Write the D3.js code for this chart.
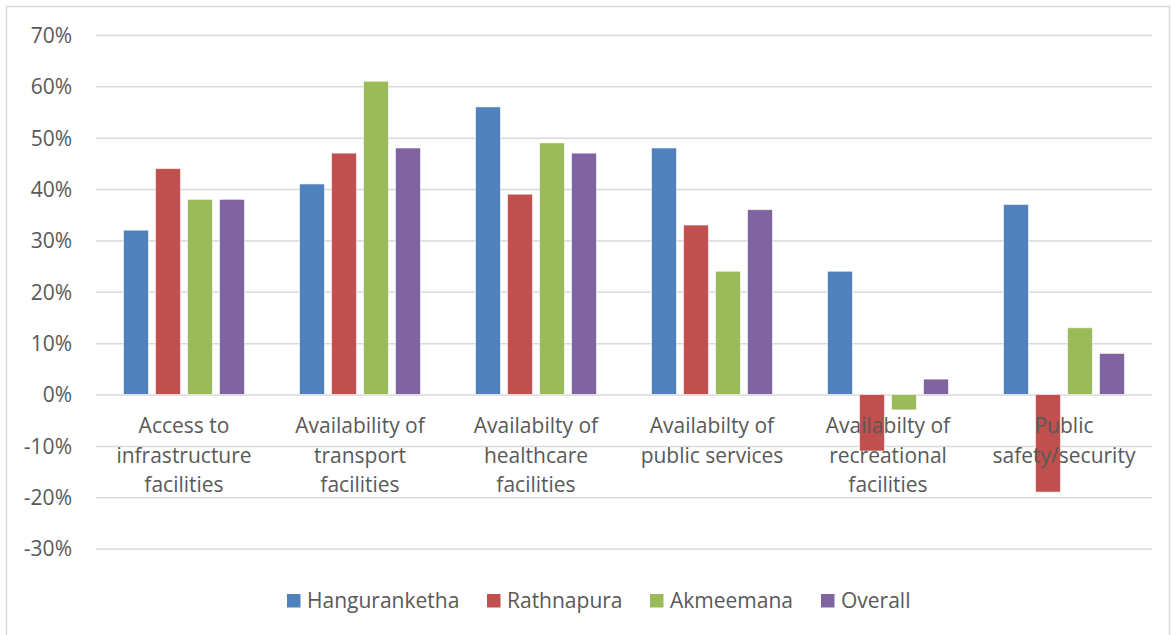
<!DOCTYPE html>
<html>
<head>
<meta charset="utf-8">
<script src="https://cdn.jsdelivr.net/npm/d3@7/dist/d3.min.js"></script>
<style>
  body { margin: 0; background: #fff; }
  svg text { font-family: "Open Sans", sans-serif; fill: #595959; }
</style>
</head>
<body>
<div class="plot"></div>
<script>
// data
let categories = [
  "Access to infrastructure facilities",
  "Availability of transport facilities",
  "Availabilty of healthcare facilities",
  "Availabilty of public services",
  "Availabilty of recreational facilities",
  "Public safety/security"
]
// how excel wrapped each category label
let categoryLines = [
  ["Access to", "infrastructure", "facilities"],
  ["Availability of", "transport", "facilities"],
  ["Availabilty of", "healthcare", "facilities"],
  ["Availabilty of", "public services"],
  ["Availabilty of", "recreational", "facilities"],
  ["Public", "safety/security"]
]
let seriesNames = ["Hanguranketha", "Rathnapura", "Akmeemana", "Overall"]
let hanguranketha = [32, 41, 56, 48, 24, 37]
let rathnapura    = [44, 47, 39, 33, -11, -19]
let akmeemana     = [38, 61, 49, 24, -3, 13]
let overall       = [38, 48, 47, 36, 3, 8]
let yTicks = [-30, -20, -10, 0, 10, 20, 30, 40, 50, 60, 70]
let colors = ["#4f81bd", "#c0504d", "#9bbb59", "#8064a2"]

let seriesValues = [hanguranketha, rathnapura, akmeemana, overall]

let W = 1171, H = 635
let svg = d3.select(".plot").append("svg")
    .attr("width", W)
    .attr("height", H)

// chart frame
svg.append("rect")
    .attr("x", 6.5).attr("y", 6.5)
    .attr("width", 1163).attr("height", 650)
    .attr("fill", "#fff")
    .attr("stroke", "#d9d9d9")
    .attr("stroke-width", 1.5)

let x0 = d3.scaleBand()
    .domain(categories)
    .range([96, 1152])
let x1 = d3.scaleBand()
    .domain(seriesNames)
    .range([0, x0.bandwidth()])
    .paddingInner(0.22)
    .paddingOuter(0.86)
let y = d3.scaleLinear()
    .domain([-30, 70])
    .range([548.6, 35])
let color = d3.scaleOrdinal().domain(seriesNames).range(colors)

// gridlines + tick labels
let yAxis = d3.axisLeft(y)
    .tickValues(yTicks)
    .tickSize(-(1152 - 96))
    .tickPadding(24)
    .tickFormat(d => d + "%")
let gy = svg.append("g")
    .attr("transform", "translate(96,0)")
    .call(yAxis)
gy.select(".domain").remove()
gy.selectAll(".tick line")
    .attr("stroke", "#d9d9d9")
    .attr("stroke-width", 1.5)
gy.selectAll(".tick text")
    .attr("font-size", 21)
    .attr("fill", "#595959")
    .attr("dy", "0.35em")

// bars
let rows = categories.map(function(c, i) {
  return {cat: c, data: seriesNames.map(function(s, j) { return {name: s, value: seriesValues[j][i]} })}
})
let groups = svg.selectAll(".group")
    .data(rows)
    .enter().append("g")
    .attr("class", "group")
    .attr("transform", d => "translate(" + x0(d.cat) + ",0)")
groups.selectAll("rect")
    .data(d => d.data)
    .enter().append("rect")
    .attr("x", d => x1(d.name))
    .attr("width", x1.bandwidth())
    .attr("y", d => y(Math.max(0, d.value)))
    .attr("height", d => Math.abs(y(d.value) - y(0)))
    .attr("fill", d => color(d.name))
    .attr("stroke", "#fff")
    .attr("stroke-opacity", 0.6)
    .attr("stroke-width", 1)

// category labels (drawn over the bars like excel does)
let lab = svg.selectAll(".cat")
    .data(categories)
    .enter().append("text")
    .attr("class", "cat")
    .attr("text-anchor", "middle")
    .attr("font-size", 21)
    .attr("x", d => x0(d) + x0.bandwidth() / 2)
lab.selectAll("tspan")
    .data((d, i) => categoryLines[i])
    .enter().append("tspan")
    .attr("x", function() { return d3.select(this.parentNode).attr("x") })
    .attr("y", (d, i) => 433 + i * 29.5)
    .text(d => d)

// legend
let legendX = [287, 487, 650, 821]
let legend = svg.selectAll(".legend")
    .data(seriesNames)
    .enter().append("g")
    .attr("class", "legend")
    .attr("transform", (d, i) => "translate(" + legendX[i] + ",594)")
legend.append("rect")
    .attr("width", 13.5)
    .attr("height", 13.5)
    .attr("fill", d => color(d))
legend.append("text")
    .attr("x", 20)
    .attr("y", 7)
    .attr("dy", "0.35em")
    .attr("font-size", 21)
    .text(d => d)
</script>
</body>
</html>
